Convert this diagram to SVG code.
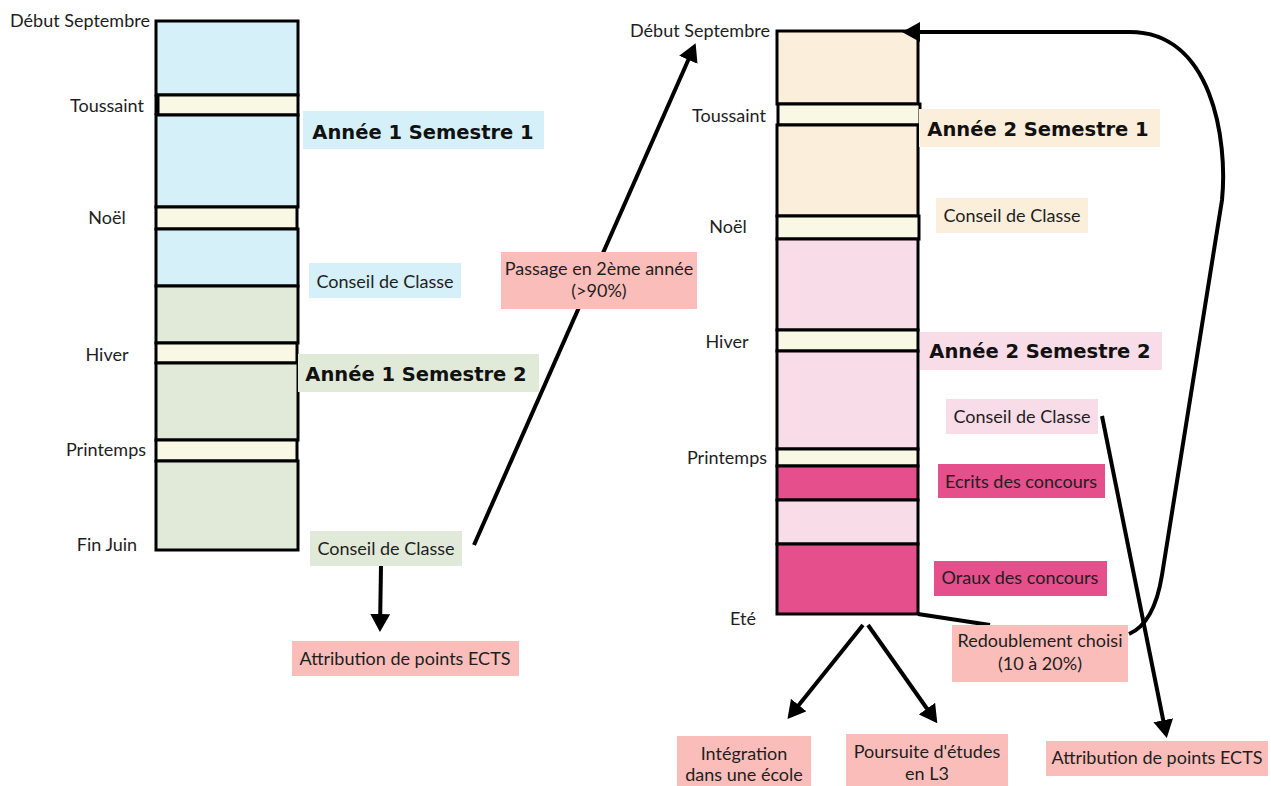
<svg xmlns="http://www.w3.org/2000/svg" width="1271" height="786" viewBox="0 0 1271 786">
<defs>
<marker id="ah" viewBox="0 0 18 20" refX="14" refY="10" markerWidth="18" markerHeight="20" markerUnits="userSpaceOnUse" orient="auto">
<path d="M0,0 L18,10 L0,20 z" fill="#000"/>
</marker>
<style>
.t{font-family:Lato,"Liberation Sans",sans-serif;font-size:18px;fill:#1e1e1e;text-anchor:middle}
.h{font-family:"DejaVu Sans",Lato,sans-serif;font-size:19.5px;font-weight:bold;fill:#111;text-anchor:middle}
.seg{stroke:#000;stroke-width:3}
.blue{fill:#d5f0f9}
.band{fill:#f9f8e4}
.green{fill:#e1ead9}
.peach{fill:#fbeedb}
.pink{fill:#f8dce7}
.mag{fill:#e44f8c}
.sal{fill:#fbbdb9}
.cn{fill:none;stroke:#000;stroke-width:4}
</style>
</defs>
<rect width="1271" height="786" fill="#fff"/>

<g id="col1">
<rect class="seg blue" x="156" y="21" width="142" height="74"/>
<rect class="seg band" x="158" y="95" width="140" height="20"/>
<rect class="seg blue" x="156" y="115" width="142" height="92"/>
<rect class="seg band" x="156" y="207" width="141" height="22"/>
<rect class="seg blue" x="156" y="229" width="142" height="57"/>
<rect class="seg green" x="156" y="286" width="142" height="57"/>
<rect class="seg band" x="156" y="343" width="141" height="20"/>
<rect class="seg green" x="156" y="363" width="142" height="77"/>
<rect class="seg band" x="156" y="440" width="141" height="21"/>
<rect class="seg green" x="156" y="461" width="142" height="89"/>
<path d="M156,95 L156,115" stroke="#000" stroke-width="3"/>
</g>

<g id="col2">
<rect class="seg peach" x="777" y="31" width="141" height="73"/>
<rect class="seg band" x="778" y="104" width="142" height="21"/>
<rect class="seg peach" x="777" y="125" width="141" height="91"/>
<rect class="seg band" x="777" y="216" width="142" height="23"/>
<rect class="seg pink" x="777" y="239" width="141" height="91"/>
<rect class="seg band" x="777" y="330" width="141" height="21"/>
<rect class="seg pink" x="777" y="351" width="141" height="98"/>
<rect class="seg band" x="777" y="449" width="141" height="17"/>
<rect class="seg mag" x="777" y="466" width="141" height="34"/>
<rect class="seg pink" x="777" y="500" width="141" height="44"/>
<rect class="seg mag" x="777" y="544" width="141" height="70"/>
</g>

<g id="connectors">
<path class="cn" d="M474,545 L694,47" marker-end="url(#ah)"/>
<path class="cn" d="M381,566 L380,628" marker-end="url(#ah)"/>
<path class="cn" d="M918,614 L990,625" stroke-width="3"/>
<path class="cn" d="M1129,634 C1150,625 1158,600 1162,575 L1222,200 C1228,140 1212,32 1130,32 L906,32" stroke-width="3" marker-end="url(#ah)"/>
<path class="cn" d="M863,625 L790,716" marker-end="url(#ah)"/>
<path class="cn" d="M868,625 L935,720" marker-end="url(#ah)"/>
<path class="cn" d="M1102,416 L1166,734" marker-end="url(#ah)"/>
</g>

<g id="col1-labels">
<text class="t" x="80" y="27">Début Septembre</text>
<text class="t" x="107" y="112">Toussaint</text>
<text class="t" x="107" y="224">Noël</text>
<text class="t" x="107" y="361">Hiver</text>
<text class="t" x="106" y="456">Printemps</text>
<text class="t" x="107" y="551">Fin Juin</text>
</g>

<g id="a1s1"><rect class="blue" x="303" y="111" width="241" height="38"/><text class="h" x="423" y="139">Année 1 Semestre 1</text></g>
<g id="cdc1"><rect class="blue" x="309" y="263" width="152" height="35"/><text class="t" x="385" y="288">Conseil de Classe</text></g>
<g id="a1s2"><rect class="green" x="298" y="354" width="241" height="38"/><text class="h" x="416" y="381">Année 1 Semestre 2</text></g>
<g id="passage"><rect class="sal" x="501" y="252" width="196" height="57"/><text class="t" x="599" y="275">Passage en 2ème année</text><text class="t" x="599" y="297">(&gt;90%)</text></g>
<g id="cdc2"><rect class="green" x="310" y="531" width="152" height="35"/><text class="t" x="386" y="555">Conseil de Classe</text></g>
<g id="ects1"><rect class="sal" x="292" y="641" width="227" height="35"/><text class="t" x="405" y="665">Attribution de points ECTS</text></g>

<g id="col2-labels">
<text class="t" x="700" y="37">Début Septembre</text>
<text class="t" x="729" y="122">Toussaint</text>
<text class="t" x="728" y="233">Noël</text>
<text class="t" x="727" y="348">Hiver</text>
<text class="t" x="727" y="464">Printemps</text>
<text class="t" x="743" y="625">Eté</text>
</g>

<g id="a2s1"><rect class="peach" x="919" y="109" width="241" height="38"/><text class="h" x="1038" y="136">Année 2 Semestre 1</text></g>
<g id="cdc3"><rect class="peach" x="936" y="198" width="152" height="35"/><text class="t" x="1012" y="222">Conseil de Classe</text></g>
<g id="a2s2"><rect class="pink" x="920" y="332" width="242" height="38"/><text class="h" x="1040" y="358">Année 2 Semestre 2</text></g>
<g id="cdc4"><rect class="pink" x="946" y="399" width="152" height="35"/><text class="t" x="1022" y="423">Conseil de Classe</text></g>
<g id="ecrits"><rect class="mag" x="938" y="464" width="167" height="34"/><text class="t" x="1021" y="488">Ecrits des concours</text></g>
<g id="oraux"><rect class="mag" x="934" y="561" width="173" height="35"/><text class="t" x="1020" y="584">Oraux des concours</text></g>
<g id="redoublement"><rect class="sal" x="952" y="625" width="176" height="57"/><text class="t" x="1040" y="647">Redoublement choisi</text><text class="t" x="1040" y="670">(10 à 20%)</text></g>
<g id="integration"><rect class="sal" x="677" y="736" width="134" height="54"/><text class="t" x="744" y="760">Intégration</text><text class="t" x="744" y="781">dans une école</text></g>
<g id="poursuite"><rect class="sal" x="846" y="734" width="162" height="56"/><text class="t" x="927" y="758">Poursuite d'études</text><text class="t" x="927" y="780">en L3</text></g>
<g id="ects2"><rect class="sal" x="1046" y="741" width="222" height="35"/><text class="t" x="1157" y="764">Attribution de points ECTS</text></g>
</svg>
